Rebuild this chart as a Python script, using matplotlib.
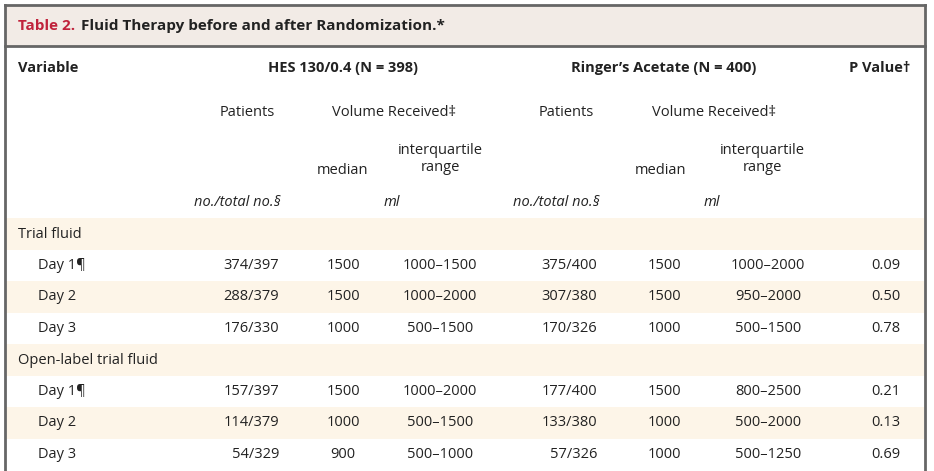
import matplotlib.pyplot as plt
from matplotlib.patches import Rectangle

plt.rcParams["font.family"] = "Open Sans"

title_num = "Table 2."
title_text = "Fluid Therapy before and after Randomization.*"
groups = ["HES 130/0.4 (N = 398)", "Ringer\u2019s Acetate (N = 400)"]
sections = ["Trial fluid", "Open-label trial fluid"]
days = ["Day 1\u00b6", "Day 2", "Day 3"]
hes_patients = [["374/397", "288/379", "176/330"], ["157/397", "114/379", "54/329"]]
hes_median = [["1500", "1500", "1000"], ["1500", "1000", "900"]]
hes_iqr = [["1000\u20131500", "1000\u20132000", "500\u20131500"], ["1000\u20132000", "500\u20131500", "500\u20131000"]]
ra_patients = [["375/400", "307/380", "170/326"], ["177/400", "133/380", "57/326"]]
ra_median = [["1500", "1500", "1000"], ["1500", "1000", "1000"]]
ra_iqr = [["1000\u20132000", "950\u20132000", "500\u20131500"], ["800\u20132500", "500\u20132000", "500\u20131250"]]
p_values = [["0.09", "0.50", "0.78"], ["0.21", "0.13", "0.69"]]

fig = plt.figure(figsize=(9.34, 4.71), dpi=100)
ax = fig.add_axes([0, 0, 1, 1])
ax.set_xlim(0, 934)
ax.set_ylim(471, 0)
ax.axis("off")

# frame and title band
ax.add_patch(Rectangle((5, 5), 920, 41, facecolor="#f2ebe6", edgecolor="none"))
ax.plot([5, 925], [5, 5], color="#666666", lw=2)
ax.plot([5, 5], [5, 471], color="#666666", lw=2)
ax.plot([925, 925], [5, 471], color="#666666", lw=2)
ax.plot([5, 925], [46, 46], color="#666666", lw=2)
ax.text(18, 26, title_num, color="#c0223b", fontsize=11, weight="bold", va="center")
ax.text(81, 26, title_text, color="#222222", fontsize=11, weight="bold", va="center")

fs = 10.5
c = "#222222"
ax.text(18, 68, "Variable", fontsize=fs, weight="bold", va="center", color=c)
ax.text(343, 68, groups[0], fontsize=fs, weight="bold", va="center", ha="center", color=c)
ax.text(664, 68, groups[1], fontsize=fs, weight="bold", va="center", ha="center", color=c)
ax.text(910, 68, "P Value\u2020", fontsize=fs, weight="bold", va="center", ha="right", color=c)

for px, mx, ix in [(247, 343, 440), (566, 661, 762)]:
    ax.text(px, 113, "Patients", fontsize=fs, ha="center", va="center", color=c)
    ax.text((mx + ix) / 2 + 3, 113, "Volume Received\u2021", fontsize=fs, ha="center", va="center", color=c)
    ax.text(mx, 170, "median", fontsize=fs, ha="center", va="center", color=c)
    ax.text(ix, 159, "interquartile\nrange", fontsize=fs, ha="center", va="center",
            color=c, linespacing=1.1)
    ax.text(px - 10, 202, "no./total no.\u00a7", fontsize=fs, ha="center", va="center",
            style="italic", color=c)
    ax.text((mx + ix) / 2, 202, "ml", fontsize=fs, ha="center", va="center", style="italic", color=c)

row_h = 31.5
y = 234
shade = True
for s, sec in enumerate(sections):
    if shade:
        ax.add_patch(Rectangle((6, y - row_h / 2), 918, row_h, facecolor="#fdf5e8", edgecolor="none", zorder=0))
    shade = not shade
    ax.text(18, y, sec, fontsize=fs, va="center", color=c)
    y += row_h
    for d, day in enumerate(days):
        if shade:
            ax.add_patch(Rectangle((6, y - row_h / 2), 918, row_h, facecolor="#fdf5e8", edgecolor="none", zorder=0))
        shade = not shade
        ax.text(38, y, day, fontsize=fs, va="center", color=c)
        ax.text(279, y, hes_patients[s][d], fontsize=fs, va="center", ha="right", color=c)
        ax.text(343, y, hes_median[s][d], fontsize=fs, va="center", ha="center", color=c)
        ax.text(440, y, hes_iqr[s][d], fontsize=fs, va="center", ha="center", color=c)
        ax.text(597, y, ra_patients[s][d], fontsize=fs, va="center", ha="right", color=c)
        ax.text(664, y, ra_median[s][d], fontsize=fs, va="center", ha="center", color=c)
        ax.text(768, y, ra_iqr[s][d], fontsize=fs, va="center", ha="center", color=c)
        ax.text(900, y, p_values[s][d], fontsize=fs, va="center", ha="right", color=c)
        y += row_h

fig.savefig("out.png", dpi=100)
